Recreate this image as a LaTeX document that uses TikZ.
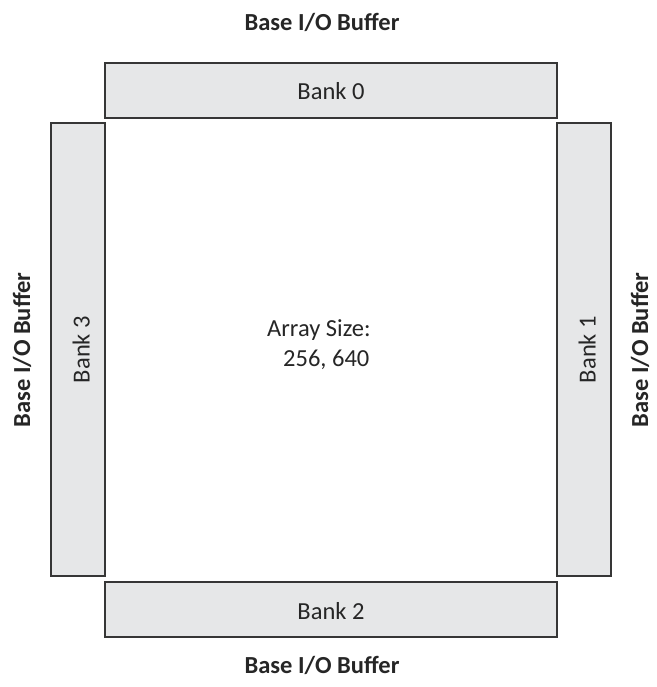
\documentclass[tikz,border=0pt]{standalone}
\usepackage{fontspec}
\setmainfont{Carlito}
\usepackage{xcolor}
\usepackage{tikz}
\usetikzlibrary{positioning}

\definecolor{bankfill}{HTML}{E6E7E8}
\definecolor{bankline}{HTML}{363636}

\begin{document}
\begin{tikzpicture}[x=1pt, y=-1pt,
    bank/.style={draw=bankline, fill=bankfill, line width=1.8pt, inner sep=0pt,
      text=black!85, font=\fontsize{24.5}{30}\selectfont, text height=19pt, text depth=0pt},
    sidebank/.style={bank, rotate=90, minimum width=453pt, minimum height=54pt, text height=23pt},
    flatbank/.style={bank, minimum width=452pt, minimum height=55pt},
    buffer/.style={font=\bfseries\fontsize{24.5}{30}\selectfont, text=black!85, inner sep=0pt}]
  \useasboundingbox (0,0) rectangle (656,687);
  % memory banks round the array
  \node[flatbank] (bank0) at (331, 90.5) {Bank 0};
  \node[sidebank] (bank1) at (584, 349.5) {Bank 1};
  \node[flatbank] (bank2) at (331, 609.5) {Bank 2};
  \node[sidebank] (bank3) at (78, 349.5) {Bank 3};
  % buffers on each side
  \node[buffer] (buftop) at (322, 22) {Base I/O Buffer};
  \node[buffer] (bufbot) at (322, 665) {Base I/O Buffer};
  \node[buffer, rotate=90] (bufleft) at (22, 350) {Base I/O Buffer};
  \node[buffer, rotate=90] (bufright) at (640, 350) {Base I/O Buffer};
  % array in the middle
  \node[font=\fontsize{24.5}{30}\selectfont, text=black!85, inner sep=0pt, anchor=base west]
    (arraylbl) at (267, 336) {Array Size:};
  \node[font=\fontsize{24.5}{30}\selectfont, text=black!85, inner sep=0pt, anchor=base west]
    (arrayval) at (283, 366) {256, 640};
\end{tikzpicture}
\end{document}
